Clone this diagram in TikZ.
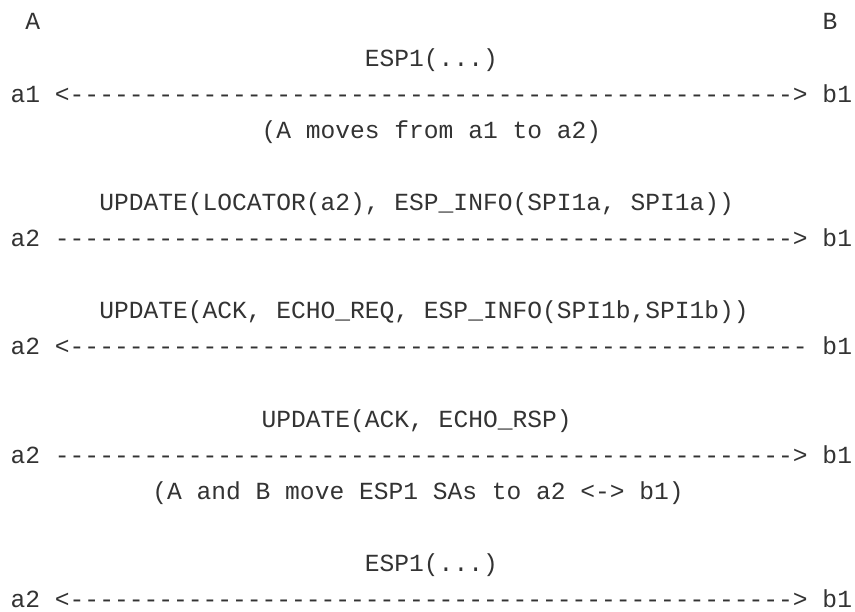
\documentclass[tikz,border=0pt]{standalone}
\usepackage{fontspec}
\setmonofont{Liberation Mono}
\definecolor{inkgray}{HTML}{333333}
\newcommand{\cx}[1]{10.5+#1*14.76}
\newcommand{\ry}[1]{30+#1*36.1}
\tikzset{
    row/.style={anchor=base west, inner sep=0pt, text=inkgray,
        font=\ttfamily\fontsize{24.6}{30}\selectfont},
}
\begin{document}
\begin{tikzpicture}[x=1pt, y=-1pt]
    \path[fill=white, use as bounding box] (0,0) rectangle (855,612);

    % hosts
    \node[row] (hostA) at ({\cx{1}},{\ry{0}}) {A};
    \node[row] (hostB) at ({\cx{55}},{\ry{0}}) {B};

    % ESP1 before the move
    \node[row] (espOld) at ({\cx{24}},{\ry{1}}) {ESP1(...)};
    \node[row] (lineOld) at ({\cx{0}},{\ry{2}}) {a1 <\foreach\k in {1,...,49}{-}> b1};
    \node[row] (moveA) at ({\cx{17}},{\ry{3}}) {(A moves from a1 to a2)};

    % first UPDATE
    \node[row] (updOne) at ({\cx{6}},{\ry{5}}) {UPDATE(LOCATOR(a2), ESP\_INFO(SPI1a, SPI1a))};
    \node[row] (lineOne) at ({\cx{0}},{\ry{6}}) {a2 \foreach\k in {1,...,50}{-}> b1};

    % second UPDATE
    \node[row] (updTwo) at ({\cx{6}},{\ry{8}}) {UPDATE(ACK, ECHO\_REQ, ESP\_INFO(SPI1b,SPI1b))};
    \node[row] (lineTwo) at ({\cx{0}},{\ry{9}}) {a2 <\foreach\k in {1,...,50}{-} b1};

    % third UPDATE
    \node[row] (updThree) at ({\cx{17}},{\ry{11}}) {UPDATE(ACK, ECHO\_RSP)};
    \node[row] (lineThree) at ({\cx{0}},{\ry{12}}) {a2 \foreach\k in {1,...,50}{-}> b1};
    \node[row] (moveSA) at ({\cx{9.6}},{\ry{13}}) {(A and B move ESP1 SAs to a2 <-> b1)};

    % ESP1 after the move
    \node[row] (espNew) at ({\cx{24}},{\ry{15}}) {ESP1(...)};
    \node[row] (lineNew) at ({\cx{0}},{\ry{16}}) {a2 <\foreach\k in {1,...,49}{-}> b1};
\end{tikzpicture}
\end{document}
